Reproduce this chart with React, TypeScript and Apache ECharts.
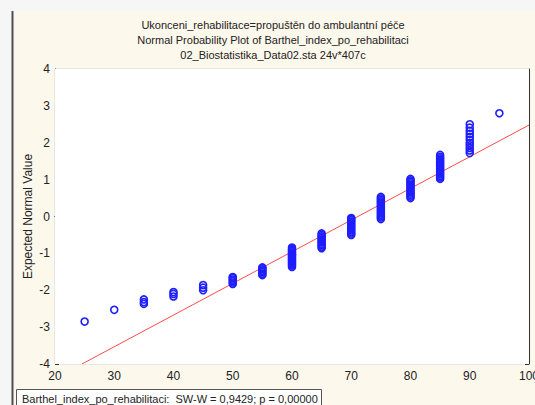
import React, { useEffect, useRef } from "react";
import * as echarts from "echarts";

// Barthel index values (x) and expected normal values (y)
const scoreValues = [25, 30, 35, 40, 45, 50, 55, 60, 65, 70, 75, 80, 85, 90, 95];
const expected25 = [-2.85];
const expected30 = [-2.53];
const expected35 = [-2.37, -2.32, -2.25];
const expected40 = [-2.17, -2.1, -2.05];
const expected45 = [-2.0, -1.93, -1.86];
const expected50 = [-1.83, -1.79, -1.75, -1.71, -1.67, -1.64];
const expected55 = [-1.59, -1.55, -1.51, -1.47, -1.43, -1.4, -1.38];
const expected60 = [-1.37, -1.33, -1.3, -1.27, -1.24, -1.21, -1.18, -1.15, -1.12, -1.09, -1.06, -1.03, -1.0, -0.97, -0.94, -0.91, -0.88, -0.84];
const expected65 = [-0.86, -0.82, -0.78, -0.74, -0.7, -0.66, -0.62, -0.58, -0.54, -0.5, -0.46];
const expected70 = [-0.5, -0.46, -0.42, -0.38, -0.34, -0.3, -0.26, -0.22, -0.18, -0.14, -0.1, -0.07, -0.04];
const expected75 = [-0.07, -0.03, 0.01, 0.05, 0.09, 0.13, 0.17, 0.21, 0.25, 0.29, 0.33, 0.37, 0.41, 0.45, 0.49, 0.53];
const expected80 = [0.5, 0.54, 0.58, 0.62, 0.66, 0.7, 0.74, 0.78, 0.82, 0.86, 0.9, 0.94, 0.98, 1.02];
const expected85 = [1.02, 1.06, 1.1, 1.14, 1.18, 1.22, 1.26, 1.3, 1.34, 1.38, 1.42, 1.46, 1.5, 1.54, 1.58, 1.62, 1.67];
const expected90 = [1.72, 1.79, 1.86, 1.93, 2.0, 2.08, 2.16, 2.24, 2.32, 2.41, 2.5];
const expected95 = [2.8];
const expectedByScore = [
  expected25, expected30, expected35, expected40, expected45, expected50, expected55,
  expected60, expected65, expected70, expected75, expected80, expected85, expected90, expected95,
];

// Reference (fitted normal) line end points
const fitLineX = [24.55, 100];
const fitLineY = [-4, 2.48];

const xTicks = [20, 30, 40, 50, 60, 70, 80, 90, 100];
const yTicks = [-4, -3, -2, -1, 0, 1, 2, 3, 4];

const titleLines = [
  "Ukonceni_rehabilitace=propuštěn do ambulantní péče",
  "Normal Probability Plot of Barthel_index_po_rehabilitaci",
  "02_Biostatistika_Data02.sta 24v*407c",
];
const statText = "Barthel_index_po_rehabilitaci:  SW-W = 0,9429; p = 0,00000";
const yAxisName = "Expected Normal Value";

export default function App() {
  const ref = useRef<HTMLDivElement>(null);
  useEffect(() => {
    if (!ref.current) return;
    const chart = echarts.init(ref.current, undefined, { renderer: "svg" });
    const points: number[][] = [];
    scoreValues.forEach((x, i) => {
      expectedByScore[i].forEach((y) => points.push([x, y]));
    });
    const font = "'Liberation Sans', Arial, sans-serif";
    const axisCommon = {
      axisLine: { show: true, lineStyle: { color: "#333", width: 1 } },
      axisTick: { show: true, inside: true, length: 4, lineStyle: { color: "#333" } },
      minorTick: { show: true, splitNumber: 5, length: 2.5, lineStyle: { color: "#333" } },
    };
    chart.setOption({
      animation: false,
      backgroundColor: "#f6f6f6",
      textStyle: { fontFamily: font },
      grid: {
        left: 55,
        top: 69,
        width: 474,
        height: 295,
        containLabel: false,
        outerBoundsMode: "none",
        show: true,
        backgroundColor: "#ffffff",
        borderWidth: 0,
        z: 1,
      },
      graphic: [
        { type: "rect", z: -100, silent: true, shape: { x: 12, y: 11, width: 530, height: 400 }, style: { fill: "#fdf8ec" } },
        { type: "rect", z: -90, silent: true, shape: { x: 11.5, y: 11, width: 2, height: 400 }, style: { fill: "#505050" } },
        ...titleLines.map((t, i) => ({
          type: "text",
          z: 10,
          x: 273,
          y: 25 + i * 15,
          style: {
            text: t,
            fontSize: 11,
            fontFamily: font,
            fill: "#222",
            align: "center",
            verticalAlign: "middle",
          },
        })),
        { type: "rect", z: 50, shape: { x: 16.5, y: 389.5, width: 305, height: 30 }, style: { fill: "#ffffff", stroke: "#555", lineWidth: 1 } },
        {
          type: "text",
          z: 51,
          x: 22,
          y: 398.5,
          style: { text: statText, fontSize: 11, fontFamily: font, fill: "#222", align: "left", verticalAlign: "middle" },
        },
      ],
      xAxis: [
        {
          type: "value",
          position: "bottom",
          min: xTicks[0],
          max: xTicks[xTicks.length - 1],
          interval: 10,
          ...axisCommon,
          splitLine: { show: true, lineStyle: { color: "#e2e2e2", width: 1.5 } },
          axisLabel: { show: true, fontSize: 12, color: "#222", margin: 6, fontFamily: font },
        },
        {
          type: "value",
          position: "top",
          min: xTicks[0],
          max: xTicks[xTicks.length - 1],
          interval: 10,
          ...axisCommon,
          splitLine: { show: false },
          axisLabel: { show: false },
        },
      ],
      yAxis: [
        {
          type: "value",
          position: "left",
          min: yTicks[0],
          max: yTicks[yTicks.length - 1],
          interval: 1,
          name: yAxisName,
          nameLocation: "middle",
          nameGap: 21,
          nameMoveOverlap: false,
          nameTextStyle: { fontSize: 12, color: "#222", fontFamily: font },
          ...axisCommon,
          splitLine: { show: true, lineStyle: { color: "#e2e2e2", width: 1.5 } },
          axisLabel: { show: true, fontSize: 12, color: "#222", margin: 5, fontFamily: font },
        },
        {
          type: "value",
          position: "right",
          min: yTicks[0],
          max: yTicks[yTicks.length - 1],
          interval: 1,
          ...axisCommon,
          splitLine: { show: false },
          axisLabel: { show: false },
        },
      ],
      series: [
        {
          type: "line",
          data: fitLineX.map((x, i) => [x, fitLineY[i]]),
          showSymbol: false,
          symbol: "none",
          lineStyle: { color: "#ff4a4a", width: 1 },
          z: 3,
        },
        {
          type: "scatter",
          data: points,
          symbol: "circle",
          symbolSize: 7,
          itemStyle: { color: "rgba(0,0,0,0)", borderColor: "#1e1eff", borderWidth: 1.6, opacity: 1 },
          z: 4,
        },
      ],
    });
    return () => chart.dispose();
  }, []);
  return (
    <div
      ref={ref}
      style={{ position: "fixed", left: 0, top: 0, width: 535, height: 405 }}
    />
  );
}
